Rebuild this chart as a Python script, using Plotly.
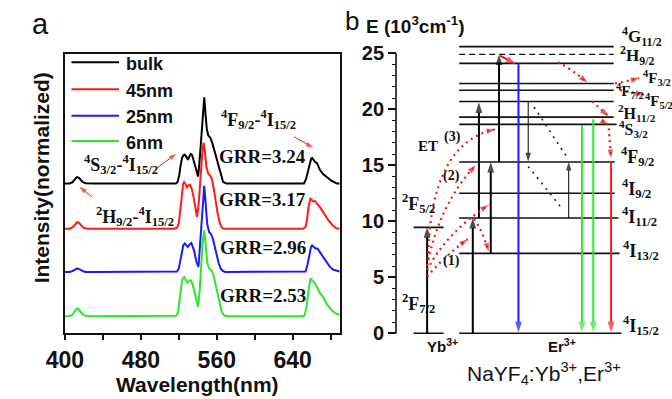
import plotly.graph_objects as go

W, H = 672, 399

# ---------------- Panel (a): upconversion spectra ----------------
series_names = ["bulk", "45nm", "25nm", "6nm"]
series_colors = ["#000000", "#ff1a1a", "#1a1aff", "#2ee62e"]
series_offsets = [1.74, 1.215, 0.713, 0.198]
grr_labels = ["GRR=3.24", "GRR=3.17", "GRR=2.96", "GRR=2.53"]

wl_bulk = [400, 405, 408, 410, 412, 413, 415, 417, 419, 422, 430, 512, 517, 518.8, 520.5, 522, 523.5, 525, 526.3,
           528, 529.5, 531, 532.5, 534, 536, 538, 540.3, 541.8, 543.3, 545, 546.8, 548, 549.5, 551, 553, 555,
           557, 559, 561.5, 563.5, 565, 566.6, 570, 600, 648, 651.9, 654, 656, 658, 659.5, 660.5, 662, 664,
           665.6, 667, 668.8, 672, 675, 677.5, 681, 684.3, 686.5, 689.5]
int_bulk = [0, 0, 0.015, 0.045, 0.068, 0.073, 0.062, 0.038, 0.015, 0.003, 0, 0, 0, 0.02, 0.1, 0.22, 0.3, 0.33, 0.335,
            0.31, 0.276, 0.31, 0.343, 0.33, 0.25, 0.15, 0.08, 0.25, 0.5, 0.75, 1.0, 0.82, 0.63, 0.56, 0.534, 0.48,
            0.4, 0.32, 0.24, 0.15, 0.07, 0.02, 0, 0, 0, 0, 0.05, 0.15, 0.25, 0.29, 0.296, 0.27, 0.245,
            0.237, 0.2, 0.156, 0.11, 0.08, 0.06, 0.03, 0.012, 0, 0]

wl_45 = [400, 405, 408, 410, 412, 413, 415, 417, 419, 422, 430, 515, 518, 520, 521.5, 523, 524.5, 525.6, 527, 528.5,
         530, 531.8, 533.5, 535.5, 537.5, 539.2, 541, 542.5, 544.5, 546.1, 547.5, 549, 551, 553, 555, 557, 559,
         561, 563, 564.8, 567, 600, 645, 651, 653.6, 655, 656.5, 657.7, 658.7, 660, 661.5, 663.8, 665.5, 668.8,
         673, 677.5, 682, 686, 689.5]
int_45 = [0, 0, 0.015, 0.045, 0.072, 0.078, 0.065, 0.04, 0.015, 0.003, 0, 0, 0.01, 0.06, 0.2, 0.4, 0.52, 0.54, 0.52,
          0.48, 0.5, 0.51, 0.47, 0.37, 0.22, 0.136, 0.3, 0.55, 0.85, 1.0, 0.9, 0.72, 0.64, 0.616, 0.57, 0.45, 0.3,
          0.17, 0.07, 0.02, 0, 0, 0, 0, 0.02, 0.1, 0.24, 0.33, 0.348, 0.335, 0.32, 0.32, 0.29, 0.25,
          0.17, 0.1, 0.04, 0.005, 0]

wl_25 = [400, 405, 408, 410, 412, 413.5, 415, 417, 419, 422, 430, 515, 518, 520, 521.5, 523, 524.7, 526.3, 528,
         529.5, 531.3, 533.2, 536, 538.5, 540.7, 542.5, 544.5, 546.8, 548.5, 550, 552, 554, 556, 558, 560, 562,
         564, 566.5, 569, 600, 650, 653.6, 655.5, 657.5, 659.3, 660.5, 662, 663.8, 666.2, 668, 670, 672.3, 675,
         679.2, 683, 686, 689.5]
int_25 = [0, 0, 0.01, 0.025, 0.036, 0.04, 0.035, 0.02, 0.008, 0, 0, 0, 0.005, 0.04, 0.13, 0.24, 0.31, 0.33, 0.305,
          0.29, 0.32, 0.334, 0.25, 0.12, 0.058, 0.3, 0.65, 1.0, 0.75, 0.55, 0.46, 0.44, 0.38, 0.28, 0.18, 0.1,
          0.04, 0.01, 0, 0, 0, 0.005, 0.08, 0.2, 0.29, 0.308, 0.29, 0.275, 0.27, 0.24, 0.2, 0.17, 0.12,
          0.058, 0.025, 0.012, 0.005]

wl_6 = [400, 405, 408, 410, 412, 413.5, 415, 417, 419, 422, 426, 515, 517, 519, 520.5, 522, 523.5, 525.6, 527, 529,
        531, 532.5, 534, 536, 538, 540.3, 542, 543.5, 545, 546.8, 548.3, 550, 552, 554.6, 556.5, 558.5, 560.5,
        562.5, 565, 567, 569, 572, 600, 650, 652.5, 654.5, 656.5, 657.8, 658.7, 660, 661.5, 663.8, 665.5, 667.5,
        670, 672.3, 676, 681, 685, 689.5]
int_6 = [0, 0, 0.02, 0.06, 0.085, 0.09, 0.075, 0.045, 0.02, 0.005, 0, 0, 0.005, 0.04, 0.15, 0.3, 0.42, 0.457, 0.43,
         0.39, 0.41, 0.42, 0.39, 0.3, 0.18, 0.108, 0.3, 0.6, 0.85, 1.0, 0.8, 0.62, 0.55, 0.535, 0.48, 0.38, 0.26,
         0.15, 0.06, 0.02, 0.005, 0, 0, 0, 0.01, 0.1, 0.28, 0.4, 0.44, 0.42, 0.4, 0.38, 0.34, 0.29,
         0.25, 0.22, 0.14, 0.07, 0.035, 0.015]

series_wl = [wl_bulk, wl_45, wl_25, wl_6]
series_int = [int_bulk, int_45, int_25, int_6]

x_ticks_a = [400, 440, 480, 520, 560, 600, 640, 680]
x_ticklabels_a = ["400", "", "480", "", "560", "", "640", ""]

# red pointer arrows in panel a: (tail wavelength, tail y) -> (tip wavelength, tip y)
pointer_tail = [(641.3, 2.283), (497.1, 1.922), (428.4, 1.585)]
pointer_tip = [(661.8, 2.155), (517.4, 2.085), (415.1, 1.701)]

# ---------------- Panel (b): energy level diagram ----------------
E_PER_PX = 11.2          # pixels per 10^3 cm^-1 (axis placement)
e_ticks = [0, 5, 10, 15, 20, 25]
e_minor = list(range(0, 26))

er_level_E = [25.6, 24.1, 22.3, 21.7, 20.7, 19.3, 18.65, 15.3, 12.5, 10.3, 7.14, 0.0]
er_level_x0 = [453] * 12
er_level_x1 = [612, 612, 612, 612, 612, 612, 615, 613, 613, 617, 618, 620]
virtual_level_E = [24.9]
yb_level_E = [9.46, 0.0]
yb_level_x = [406, 437]

# (label, left x, centre y, font size)
level_labels = [
    ("<sup>4</sup>G<sub>11/2</sub>", 619, 37, 17),
    ("<sup>2</sup>H<sub>9/2</sub>", 616, 55, 17),
    ("<sup>4</sup>F<sub>3/2</sub>", 640, 78, 15),
    ("<sup>4</sup>F<sub>7/2</sub>", 612, 91, 15),
    ("<sup>4</sup>F<sub>5/2</sub>", 642, 101, 15),
    ("<sup>2</sup>H<sub>11/2</sub>", 614, 113, 16),
    ("<sup>4</sup>S<sub>3/2</sub>", 615, 129, 16),
    ("<sup>4</sup>F<sub>9/2</sub>", 617, 157, 18),
    ("<sup>4</sup>I<sub>9/2</sub>", 618, 189, 18),
    ("<sup>4</sup>I<sub>11/2</sub>", 618, 216, 18),
    ("<sup>4</sup>I<sub>13/2</sub>", 620, 250, 18),
    ("<sup>4</sup>I<sub>15/2</sub>", 620, 325, 18),
    ("<sup>2</sup>F<sub>5/2</sub>", 392, 203, 18),
    ("<sup>2</sup>F<sub>7/2</sub>", 392, 303, 18),
]

# vertical transitions: x, from E, to E, colour, width
trans_x = [420, 467, 473.3, 485.5, 494, 514, 524, 565.7, 579.3, 591, 609.3]
trans_from = [0, 0, 10.3, 7.14, 15.3, 24.1, 20.7, 10.3, 18.6, 19.1, 15.3]
trans_to = [9.46, 10.3, 20.6, 15.3, 24.9, 0.1, 15.35, 15.3, 0.1, 0.1, 0.1]
trans_color = ["#000000"] * 5 + ["#1a1aff", "#000000", "#000000", "#2ee62e", "#2ee62e", "#ff1a1a"]
trans_width = [2, 2, 2, 2, 2, 2, 1, 1, 2, 2, 2]

# red dotted energy-transfer / relaxation curves: start, control, end (x, E)
et_start = [(420, 5.05), (420, 5.65), (420, 6.0), (421, 6.6), (468.3, 10.2), (555, 24.2), (590, 20.7),
            (600, 19.0), (607, 18.3), (613.3, 22.3), (618.3, 21.7)]
et_ctrl = [(438, 6.9), (440, 9.0), (432, 11.5), (423, 17.0), (477, 9.2), (568, 23.6), (598, 20.05),
           (603, 18.8), (608, 17.0), (626, 22.5), (631, 21.5)]
et_end = [(461.7, 8.4), (483.3, 11.45), (470, 15.0), (490, 18.2), (483.3, 7.3), (585, 22.4), (606.7, 19.4),
          (606.7, 18.6), (609.3, 15.65), (638.3, 22.8), (643.3, 21.3)]

# short solid red arrow (virtual level -> 2H9/2)
red_short_tail = (495, 24.8)
red_short_tip = (511.7, 24.0)

# black dotted cross-relaxation lines
cr_start = [(530, 20.2), (524, 14.9)]
cr_end = [(563.3, 15.8), (560, 11.0)]

ET_COLOR = "#e81818"
SERIF = "Liberation Serif"
SANS = "Liberation Sans"


def px_x(x):
    return x / W


def px_y(y):
    return 1 - y / H


fig = go.Figure()

# spectra
for name, col, off, wl, it in zip(series_names, series_colors, series_offsets, series_wl, series_int):
    fig.add_trace(go.Scatter(x=wl, y=[off + v for v in it], mode="lines", name=name,
                             line=dict(color=col, width=2), showlegend=False,
                             xaxis="x", yaxis="y"))

# pointer arrows (panel a)
for t, p in zip(pointer_tail, pointer_tip):
    fig.add_trace(go.Scatter(x=[t[0], p[0]], y=[t[1], p[1]], mode="lines+markers",
                             line=dict(color=ET_COLOR, width=1),
                             marker=dict(symbol=["circle", "arrow"], size=[0, 8], color=ET_COLOR,
                                         angleref="previous", line=dict(width=0)),
                             showlegend=False, xaxis="x", yaxis="y", hoverinfo="skip", cliponaxis=False))

# energy levels
lx, ly = [], []
for E, x0, x1 in zip(er_level_E, er_level_x0, er_level_x1):
    lx += [x0, x1, None]
    ly += [E, E, None]
for E in yb_level_E:
    lx += [yb_level_x[0], yb_level_x[1], None]
    ly += [E, E, None]
fig.add_trace(go.Scatter(x=lx, y=ly, mode="lines", line=dict(color="#111111", width=1.6),
                         showlegend=False, xaxis="x2", yaxis="y2", hoverinfo="skip"))
vx, vy = [], []
for E in virtual_level_E:
    vx += [453, 612, None]
    vy += [E, E, None]
fig.add_trace(go.Scatter(x=vx, y=vy, mode="lines", line=dict(color="#111111", width=1.4, dash="6px,4px"),
                         showlegend=False, xaxis="x2", yaxis="y2", hoverinfo="skip"))

# black dotted cross relaxation lines
for s, e in zip(cr_start, cr_end):
    fig.add_trace(go.Scatter(x=[s[0], e[0]], y=[s[1], e[1]], mode="lines",
                             line=dict(color="#222222", width=1.6, dash="2px,5px"),
                             showlegend=False, xaxis="x2", yaxis="y2", hoverinfo="skip"))

# vertical transitions with arrow heads
for x, f, t, col, wd in zip(trans_x, trans_from, trans_to, trans_color, trans_width):
    fig.add_trace(go.Scatter(x=[x, x], y=[f, t], mode="lines+markers",
                             line=dict(color=col, width=wd),
                             marker=dict(symbol=["circle", "arrow"], size=[0, 11 if wd == 2 else 9],
                                         color=col, angleref="previous", line=dict(width=0)),
                             showlegend=False, xaxis="x2", yaxis="y2", hoverinfo="skip"))

shapes = []
annotations = []

# panel b axis line
shapes.append(dict(type="line", xref="x2", yref="y2", x0=388, x1=388, y0=0, y1=25,
                   line=dict(color="#111111", width=1.6)))

# red dotted curves + arrow heads
for s, c, e in zip(et_start, et_ctrl, et_end):
    shapes.append(dict(type="path", xref="x2", yref="y2",
                       path=f"M {s[0]},{s[1]} Q {c[0]},{c[1]} {e[0]},{e[1]}",
                       line=dict(color=ET_COLOR, width=2.2, dash="2px,4px")))
fig.add_trace(go.Scatter(
    x=sum([[c[0], e[0], None] for c, e in zip(et_ctrl, et_end)], []),
    y=sum([[c[1], e[1], None] for c, e in zip(et_ctrl, et_end)], []),
    mode="markers",
    marker=dict(symbol=["circle", "arrow", "circle"] * len(et_end),
                size=[0, 9, 0] * len(et_end), color=ET_COLOR, angleref="previous", line=dict(width=0)),
    showlegend=False, xaxis="x2", yaxis="y2", hoverinfo="skip"))
fig.add_trace(go.Scatter(x=[red_short_tail[0], red_short_tip[0]], y=[red_short_tail[1], red_short_tip[1]],
                         mode="lines+markers", line=dict(color=ET_COLOR, width=2),
                         marker=dict(symbol=["circle", "arrow"], size=[0, 11], color=ET_COLOR,
                                     angleref="previous", line=dict(width=0)),
                         showlegend=False, xaxis="x2", yaxis="y2", hoverinfo="skip"))


def add_text(txt, x, y, size, family=SANS, bold=True, xanchor="center", angle=0, color="#111111"):
    annotations.append(dict(x=px_x(x), y=px_y(y), xref="paper", yref="paper", text=txt,
                            showarrow=False, xanchor=xanchor, yanchor="middle", textangle=angle,
                            font=dict(family=family, size=size, color=color,
                                      weight="bold" if bold else "normal")))


for txt, x, y, sz in level_labels:
    add_text(txt, x, y, sz, family=SERIF, xanchor="left")

add_text("Yb<sup>3+</sup>", 418, 345, 15, xanchor="left")
add_text("Er<sup>3+</sup>", 542, 345, 15, xanchor="left")
add_text("NaYF<sub>4</sub>:Yb<sup>3+</sup>,Er<sup>3+</sup>", 540, 373, 21, bold=False)
add_text("ET", 421, 146, 15, family=SERIF)
add_text("(3)", 446, 137, 14, family=SERIF)
add_text("(2)", 445, 176, 14, family=SERIF)
add_text("(1)", 445, 261, 14, family=SERIF)
add_text("b", 343, 21, 26, bold=False)
add_text("E (10<sup>3</sup>cm<sup>-1</sup>)", 355, 25, 19, xanchor="left")

# panel a text
add_text("a", 22, 24, 29, bold=False)
add_text("Intensity(normalized)", 23, 178, 21, angle=-90)
add_text("Wavelength(nm)", 184, 384, 21)
add_text("<sup>4</sup>F<sub>9/2</sub>-<sup>4</sup>I<sub>15/2</sub>", 206, 119, 18, family=SERIF, xanchor="left")
add_text("<sup>4</sup>S<sub>3/2</sub>-<sup>4</sup>I<sub>15/2</sub>", 65, 164, 18, family=SERIF, xanchor="left")
add_text("<sup>2</sup>H<sub>9/2</sub>-<sup>4</sup>I<sub>15/2</sub>", 77, 216, 18, family=SERIF, xanchor="left")
for lab, yy in zip(grr_labels, [156, 199, 247, 295]):
    add_text(lab, 251, yy, 19, family=SERIF)

# manual legend
legend_line_y = [62.3, 89.3, 115.7, 141]
for name, col, ly_px in zip(series_names, series_colors, legend_line_y):
    shapes.append(dict(type="line", xref="paper", yref="paper", x0=px_x(54), x1=px_x(103),
                       y0=px_y(ly_px), y1=px_y(ly_px), line=dict(color=col, width=2)))
    add_text(name, 108, ly_px + 1.5, 18, xanchor="left")

fig.update_layout(
    width=W, height=H, margin=dict(l=0, r=0, t=0, b=0),
    paper_bgcolor="white", plot_bgcolor="rgba(0,0,0,0)",
    showlegend=False,
    xaxis=dict(domain=[px_x(47.3), px_x(330)], range=[400, 689.5], showline=True, mirror=True,
               linecolor="#111111", linewidth=1.6, ticks="outside", ticklen=5, tickwidth=1.5,
               tickcolor="#111111", tickvals=x_ticks_a, ticktext=x_ticklabels_a,
               tickfont=dict(family=SANS, size=23, color="#111111", weight="bold"),
               showgrid=False, zeroline=False, anchor="y"),
    yaxis=dict(domain=[px_y(333.3), px_y(54)], range=[0, 3.244], showline=True, mirror=True,
               linecolor="#111111", linewidth=1.6, ticks="", showticklabels=False,
               showgrid=False, zeroline=False, anchor="x"),
    xaxis2=dict(domain=[px_x(335), 1], range=[335, 672], visible=False, anchor="y2"),
    yaxis2=dict(domain=[0, 1], range=[(333.3 - H) / E_PER_PX, 333.3 / E_PER_PX], anchor="free",
                position=px_x(388), showline=False, ticks="outside", ticklen=8, tickwidth=1.5,
                tickcolor="#111111", tickvals=e_ticks,
                tickfont=dict(family=SANS, size=20, color="#111111", weight="bold"),
                minor=dict(tickvals=e_minor, ticks="outside", ticklen=4, tickwidth=1, tickcolor="#111111"),
                showgrid=False, zeroline=False),
    shapes=shapes, annotations=annotations,
)

fig.write_html("out.html")
